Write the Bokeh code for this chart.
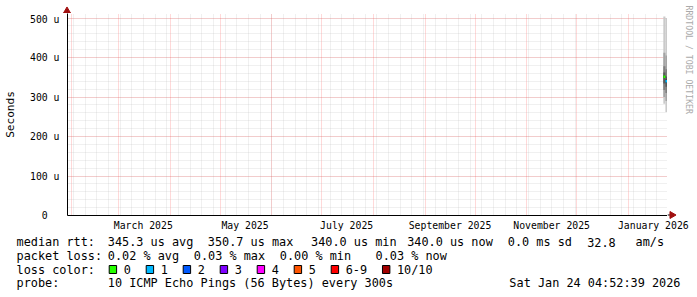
import math
import pandas as pd
from bokeh.plotting import figure
from bokeh.layouts import column, row
from bokeh.models import Range1d, FixedTicker, DatetimeTickFormatter
from bokeh.core.properties import value
from bokeh.embed import file_html
from bokeh.resources import INLINE

# ---------------- data ----------------
range_start = "2025-01-29 12:00"
range_end = "2026-01-24 12:00"

bin_start = ["2026-01-22 00:00", "2026-01-23 06:00"]
bin_end = ["2026-01-23 06:00", "2026-01-24 04:52"]
# 10 sorted ping rtts per bin, microseconds
pings_us = [
    [283, 300, 318, 334, 348, 354, 362, 378, 412, 504],
    [262, 290, 310, 326, 336, 344, 352, 370, 405, 500],
]
median_us = [351.0, 340.0]
loss_count = [0, 1]

y_ticks = [0, 100, 200, 300, 400, 500]
y_tick_labels = ["0\u00a0\u00a0", "100 u", "200 u", "300 u", "400 u", "500 u"]
x_label_months = ["2025-03-01", "2025-05-01", "2025-07-01", "2025-09-01",
                  "2025-11-01", "2026-01-01"]

loss_labels = ["0", "1", "2", "3", "4", "5", "6-9", "10/10"]
loss_colors = ["#26ff00", "#00b8ff", "#0059ff", "#7e00ff", "#ff00ff",
               "#ff5500", "#ff0000", "#a10000"]

rtt_texts = ["median rtt:", "345.3 us avg", "350.7 us max", "340.0 us min",
             "340.0 us now", "0.0 ms sd", "32.8", "am/s"]
loss_texts = ["packet loss:", "0.02 % avg", "0.03 % max", "0.00 % min",
              "0.03 % now"]
probe_texts = ["probe:", "10 ICMP Echo Pings (56 Bytes) every 300s"]
stamp_text = "Sat Jan 24 04:52:39 2026"
watermark = "RRDTOOL / TOBI OETIKER"

# ---------------- layout constants ----------------
W = 697
F_LEFT, F_RIGHT, F_TOP, F_BOT = 67, 667, 13, 215
TOP_H = F_TOP                 # strip above the frame
P_H = F_BOT - F_TOP + 5       # main plot (frame + 5px bottom border)
UP_H = TOP_H + P_H            # 220
XL_H = 12                     # x tick label strip
LEG_H = 297 - UP_H - XL_H     # 65
YMAX = 511.4
MONO = "DejaVu Sans Mono"
ARROW = "#a01010"


def ms(s):
    return pd.Timestamp(s).value / 1e6


t0, t1 = ms(range_start), ms(range_end)
xr = Range1d(t0, t1)


def strip(w, h, x0, py0):
    f = figure(width=w, height=h, x_range=Range1d(x0, x0 + w),
               y_range=Range1d(-(py0 + h), -py0), min_border=0,
               x_axis_location=None, y_axis_location=None,
               toolbar_location=None, output_backend="svg")
    f.frame_align = False
    f.outline_line_color = None
    f.grid.visible = False
    return f


# ---------------- main plot ----------------
p = figure(width=F_RIGHT, height=P_H, x_axis_type="datetime",
           x_range=xr, y_range=Range1d(0, YMAX),
           min_border_left=F_LEFT, min_border_right=0,
           min_border_top=0, min_border_bottom=P_H - (F_BOT - F_TOP),
           toolbar_location=None, output_backend="svg")
p.frame_align = False
p.outline_line_color = None

month_starts = [ms(d) for d in pd.date_range("2025-02-01", "2026-01-01", freq="MS")]
week_starts = [ms(d) for d in pd.date_range("2025-02-02", "2026-01-24", freq="W-SUN")]
p.xgrid.ticker = FixedTicker(ticks=month_starts, minor_ticks=week_starts)
p.ygrid.ticker = FixedTicker(ticks=y_ticks, minor_ticks=list(range(0, 520, 20)))
for g in (p.xgrid, p.ygrid):
    g.grid_line_color = "#ff0000"
    g.grid_line_alpha = 0.3
    g.grid_line_dash = "1 1"
    g.minor_grid_line_color = "#bababa"
    g.minor_grid_line_alpha = 0.45
    g.minor_grid_line_dash = "1 1"

xa = p.xaxis[0]
xa.ticker = FixedTicker(ticks=[], minor_ticks=[])
ya = p.yaxis[0]
ya.ticker = FixedTicker(ticks=y_ticks, minor_ticks=[])
ya.major_label_overrides = dict(zip(y_ticks, y_tick_labels))
ya.axis_label = "Seconds"
ya.axis_label_text_font = MONO
ya.axis_label_text_font_style = "normal"
ya.axis_label_text_font_size = "11.1px"
ya.axis_label_text_color = "black"
ya.axis_label_standoff = 10
ya.major_label_standoff = 8
for a in (xa, ya):
    a.major_tick_out = 0
    a.major_tick_in = 0
    a.minor_tick_out = 0
    a.minor_tick_in = 0
    a.axis_line_color = "black"
    a.major_label_text_font = MONO
    a.major_label_text_font_size = "9.8px"
    a.major_label_text_color = "black"

# smoke
bs = [ms(b) for b in bin_start]
be = [ms(b) for b in bin_end]
n = len(pings_us[0])
half = n // 2
for i in range(half):
    c = int(190 / half * (half - 1 - i)) + 50
    p.quad(left=bs, right=be,
           bottom=[r[i] for r in pings_us],
           top=[r[n - 1 - i] for r in pings_us],
           fill_color="#%02x%02x%02x" % (c, c, c), line_color=None)
p.segment(x0=bs, x1=be, y0=median_us, y1=median_us,
          line_color=[loss_colors[k] for k in loss_count], line_width=2.5)

# ---------------- top strip (y-axis arrow) ----------------
top = strip(F_RIGHT, TOP_H, 0, 0)
top.segment(x0=[F_LEFT - 0.5], x1=[F_LEFT - 0.5], y0=[-TOP_H], y1=[-10],
            line_color="black", line_width=1)
top.scatter(x=[F_LEFT - 0.5], y=[-10.5], marker="triangle", size=7,
            fill_color=ARROW, line_color=ARROW)

# ---------------- right strip (x-axis arrow, watermark) ----------------
right = strip(W - F_RIGHT, UP_H, F_RIGHT, 0)
right.segment(x0=[F_RIGHT], x1=[F_RIGHT + 3], y0=[-F_BOT + 0.5], y1=[-F_BOT + 0.5],
              line_color="black", line_width=1)
right.scatter(x=[F_RIGHT + 4.5], y=[-F_BOT + 0.5], marker="triangle", size=7,
              angle=-math.pi / 2, fill_color=ARROW, line_color=ARROW)
right.text(x=[688], y=[-5], text=[watermark], angle=-math.pi / 2,
           text_align="left", text_baseline="middle", text_font=value(MONO),
           text_font_size="8.2px", text_color="#aaaaaa")

# ---------------- x tick-label strip ----------------
xl = figure(width=W, height=XL_H, x_axis_type="datetime", x_range=xr,
            y_range=Range1d(0, 1), min_border_left=F_LEFT,
            min_border_right=W - F_RIGHT, min_border_top=0, min_border_bottom=XL_H - 1,
            y_axis_location=None, toolbar_location=None, output_backend="svg")
xl.frame_align = False
xl.outline_line_color = None
xl.grid.visible = False
xl.scatter(x=[t0], y=[2], size=0)
label_ticks = [ms(pd.Timestamp(m) + pd.Timedelta(days=15)) for m in x_label_months]
xla = xl.xaxis[0]
xla.ticker = FixedTicker(ticks=label_ticks, minor_ticks=[])
fmt = "%B %Y"
xla.formatter = DatetimeTickFormatter(microseconds=fmt, milliseconds=fmt, seconds=fmt,
                                      minsec=fmt, minutes=fmt, hourmin=fmt, hours=fmt,
                                      days=fmt, months=fmt, years=fmt)
xla.axis_line_color = None
xla.major_tick_out = 0
xla.major_tick_in = 0
xla.minor_tick_out = 0
xla.minor_tick_in = 0
xla.major_label_standoff = -1
xla.major_label_text_font = MONO
xla.major_label_text_font_size = "9.8px"
xla.major_label_text_color = "black"

# ---------------- legend strip ----------------
leg = strip(W, LEG_H, 0, UP_H + XL_H)
FS = "11.85px"
rows_py = [241.5, 255.0, 269.0, 282.8]
rtt_x = [16, 107.3, 207.3, 310.5, 406.7, 507.3, 586.7, 635]
loss_x = [16, 107.3, 193.3, 279.3, 375]
probe_x = [16, 107.3]


def txt(xs, py, texts, align="left"):
    leg.text(x=xs, y=[-py] * len(xs), text=texts, text_font=value(MONO),
             text_font_size=FS, text_baseline="middle", text_align=align,
             text_color="black")


txt(rtt_x, rows_py[0], rtt_texts)
txt(loss_x, rows_py[1], loss_texts)
txt([16], rows_py[2], ["loss color:"])
txt(probe_x, rows_py[3], probe_texts)
txt([680], rows_py[3], [stamp_text], align="right")

CH = 7.14
box_x = []
bx = 108.7
for lab in loss_labels:
    box_x.append(bx)
    bx += 37 + (len(lab) - 1) * CH
leg.rect(x=[b + 3.7 for b in box_x], y=[-rows_py[2]] * len(box_x), width=7.4, height=8,
         fill_color=loss_colors, line_color="black", line_width=1)
txt([b + 14.5 for b in box_x], rows_py[2], loss_labels)

layout = column(row(column(top, p, spacing=0), right, spacing=0), xl, leg, spacing=0)
open("out.html", "w").write(file_html(layout, INLINE))
